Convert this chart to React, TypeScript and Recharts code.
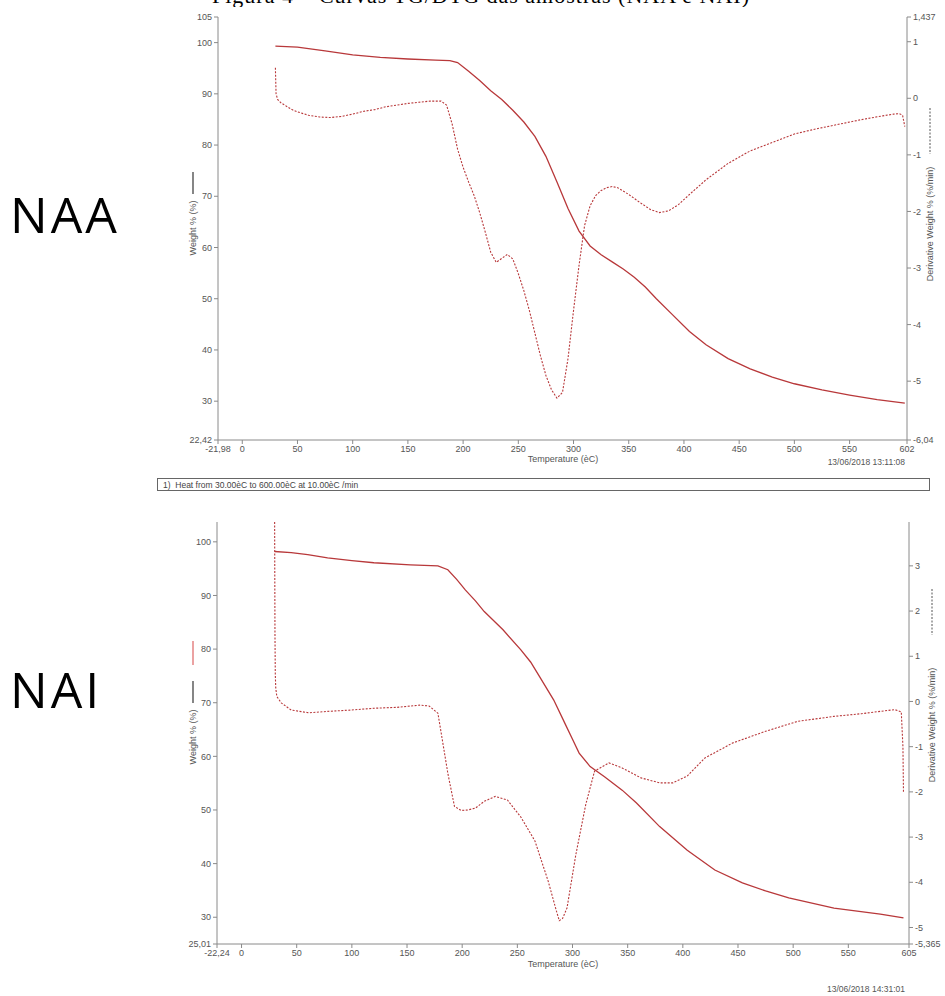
import React from 'react';
import { LineChart, Line, XAxis, YAxis, Label } from 'recharts';

// NAA – weight curve
const naaWeightTemp = [30, 40, 50, 75, 100, 125, 150, 175, 188, 195, 205, 215, 225, 235, 245, 255, 265, 275, 285, 295, 305, 315, 325, 335, 345, 355, 365, 375, 390, 405, 420, 440, 460, 480, 500, 525, 550, 575, 600];
const naaWeight = [99.3, 99.2, 99.1, 98.4, 97.6, 97.1, 96.8, 96.6, 96.5, 96.1, 94.4, 92.6, 90.6, 88.9, 86.8, 84.5, 81.7, 77.8, 72.8, 67.6, 63.2, 60.3, 58.6, 57.2, 55.8, 54.2, 52.3, 50.0, 46.8, 43.6, 41.0, 38.3, 36.3, 34.7, 33.4, 32.2, 31.2, 30.3, 29.6];

// NAA – derivative curve
const naaDerivTemp = [30, 30.6, 32, 35, 40, 45, 50, 60, 70, 80, 90, 100, 110, 120, 130, 140, 150, 160, 170, 180, 185, 190, 195, 200, 205, 210, 215, 220, 225, 230, 235, 240, 245, 250, 255, 260, 265, 270, 275, 280, 285, 290, 295, 300, 305, 310, 315, 320, 325, 330, 335, 340, 350, 360, 370, 378, 386, 395, 405, 420, 440, 460, 480, 500, 520, 540, 560, 580, 590, 595, 598, 600];
const naaDeriv = [0.54, 0.08, -0.02, -0.08, -0.14, -0.2, -0.24, -0.3, -0.33, -0.34, -0.32, -0.28, -0.23, -0.2, -0.15, -0.12, -0.09, -0.07, -0.05, -0.05, -0.12, -0.45, -0.9, -1.22, -1.48, -1.72, -2.02, -2.36, -2.72, -2.9, -2.83, -2.76, -2.84, -3.1, -3.4, -3.75, -4.15, -4.55, -4.9, -5.15, -5.3, -5.2, -4.6, -3.75, -2.95, -2.25, -1.9, -1.72, -1.63, -1.58, -1.56, -1.58, -1.7, -1.84, -1.97, -2.02, -1.99, -1.88, -1.7, -1.44, -1.15, -0.93, -0.78, -0.63, -0.54, -0.46, -0.38, -0.31, -0.28, -0.27, -0.3, -0.5];

// NAI – weight curve
const naiWeightTemp = [30, 45, 60, 78, 100, 120, 153, 178, 187, 195, 203, 212, 220, 237, 253, 262, 270, 283, 293, 300, 306, 316, 329, 345, 358, 379, 404, 429, 454, 475, 496, 537, 579, 600];
const naiWeight = [98.2, 98.0, 97.6, 97.0, 96.5, 96.1, 95.7, 95.5, 94.8, 93.0, 91.0, 89.0, 87.0, 83.6, 79.9, 77.6, 74.9, 70.5, 66.2, 63.2, 60.6, 58.1, 56.2, 53.7, 51.3, 46.9, 42.5, 38.8, 36.4, 34.9, 33.6, 31.7, 30.6, 29.9];

// NAI – derivative curve
const naiDerivTemp = [30, 30.3, 30.6, 31, 32, 36, 45, 61, 78, 99, 120, 141, 162, 170, 178, 182, 187, 193, 199, 205, 212, 220, 230, 241, 253, 266, 278, 285, 288, 291, 295, 303, 312, 320, 333, 345, 362, 379, 391, 404, 420, 445, 475, 504, 537, 562, 592, 598, 599.5, 600];
const naiDeriv = [3.97, 1.5, 0.6, 0.3, 0.11, -0.03, -0.19, -0.25, -0.22, -0.19, -0.15, -0.13, -0.08, -0.1, -0.26, -0.85, -1.59, -2.32, -2.41, -2.4, -2.36, -2.21, -2.1, -2.18, -2.55, -3.09, -3.98, -4.6, -4.85, -4.8, -4.57, -3.39, -2.28, -1.54, -1.36, -1.47, -1.69, -1.8, -1.8, -1.65, -1.25, -0.92, -0.66, -0.44, -0.33, -0.27, -0.18, -0.23, -1.0, -2.02];

// axis ticks
const naaXTicks = [-21.98, 0, 50, 100, 150, 200, 250, 300, 350, 400, 450, 500, 550, 602];
const naaWTicks = [22.42, 30, 40, 50, 60, 70, 80, 90, 100, 105];
const naaDTicks = [-6.04, -5, -4, -3, -2, -1, 0, 1, 1.437];
const naiXTicks = [-22.24, 0, 50, 100, 150, 200, 250, 300, 350, 400, 450, 500, 550, 605];
const naiWTicks = [25.01, 30, 40, 50, 60, 70, 80, 90, 100];
const naiDTicks = [-5.365, -5, -4, -3, -2, -1, 0, 1, 2, 3];

const toPoints = (ts: number[], vs: number[]) => ts.map((t, i) => ({ t, v: vs[i] }));

const FONT = '"Liberation Sans", Arial, sans-serif';
const AXIS = '#8a8a8a';
const TXT = '#555';
const CURVE = '#b8383a';
const fmt = (v: number) => String(v).replace('.', ',');
const tickStyle = { fill: TXT, fontSize: 9, fontFamily: FONT };

function LeftTitle({ cy, lineTop, redTop }: { cy: number; lineTop: number; redTop?: number }) {
  return (
    <g>
      {redTop !== undefined && <line x1={193} x2={193} y1={redTop} y2={redTop + 24} stroke="#e07070" strokeWidth={1.3} />}
      <line x1={193} x2={193} y1={lineTop} y2={lineTop + 22} stroke="#444" strokeWidth={1.3} />
      <text x={196} y={cy} transform={`rotate(-90 196 ${cy})`} textAnchor="middle" fontSize={9} fontFamily={FONT} fill={TXT}>
        Weight % (%)
      </text>
    </g>
  );
}

function RightTitle({ x, cy, dashTop }: { x: number; cy: number; dashTop: number }) {
  return (
    <g>
      <line x1={x - 3} x2={x - 3} y1={dashTop} y2={dashTop + 46} stroke="#555" strokeWidth={1} strokeDasharray="2 1.5" />
      <text x={x} y={cy} transform={`rotate(-90 ${x} ${cy})`} textAnchor="middle" fontSize={9} fontFamily={FONT} fill={TXT}>
        Derivative Weight % (%/min)
      </text>
    </g>
  );
}

function XTitle({ y }: { y: number }) {
  return (
    <text x={563} y={y} textAnchor="middle" fontSize={9} fontFamily={FONT} fill={TXT}>
      Temperature (èC)
    </text>
  );
}

function Panel(props: {
  height: number;
  margin: { top: number; right: number; bottom: number; left: number };
  rightWidth: number;
  xDomain: [number, number];
  xTicks: number[];
  wDomain: [number, number];
  wTicks: number[];
  dDomain: [number, number];
  dTicks: number[];
  weight: { t: number; v: number }[];
  deriv: { t: number; v: number }[];
  left: React.ReactNode;
  right: React.ReactNode;
  xTitleY: number;
}) {
  return (
    <LineChart width={945} height={props.height} margin={props.margin}>
      <XAxis
        type="number"
        dataKey="t"
        domain={props.xDomain}
        ticks={props.xTicks}
        interval={0}
        allowDataOverflow
        tickFormatter={fmt}
        tick={tickStyle}
        stroke={AXIS}
        tickSize={4}
        height={30}
      >
        <Label content={() => <XTitle y={props.xTitleY} />} />
      </XAxis>
      <YAxis
        yAxisId="w"
        type="number"
        domain={props.wDomain}
        ticks={props.wTicks}
        interval={0}
        allowDataOverflow
        tickFormatter={fmt}
        tick={tickStyle}
        stroke={AXIS}
        tickSize={4}
        width={40}
      >
        <Label content={() => props.left} />
      </YAxis>
      <YAxis
        yAxisId="d"
        orientation="right"
        type="number"
        domain={props.dDomain}
        ticks={props.dTicks}
        interval={0}
        allowDataOverflow
        tickFormatter={fmt}
        tick={tickStyle}
        stroke={AXIS}
        tickSize={4}
        width={props.rightWidth}
      >
        <Label content={() => props.right} />
      </YAxis>
      <Line
        yAxisId="w"
        data={props.weight}
        dataKey="v"
        type="linear"
        stroke={CURVE}
        strokeWidth={1.3}
        dot={false}
        isAnimationActive={false}
      />
      <Line
        yAxisId="d"
        data={props.deriv}
        dataKey="v"
        type="linear"
        stroke={CURVE}
        strokeWidth={1.1}
        strokeDasharray="2 1.5"
        dot={false}
        isAnimationActive={false}
      />
    </LineChart>
  );
}

export default function App() {
  return (
    <div style={{ position: 'absolute', left: 0, top: 0, width: 945, height: 996, background: '#fff', overflow: 'hidden', fontFamily: FONT }}>
      <div style={{ position: 'absolute', left: 0, top: 0, width: 945, height: 7, overflow: 'hidden' }}>
        <div style={{ position: 'absolute', left: 212, top: -17, fontFamily: '"Liberation Serif", serif', fontSize: 22, letterSpacing: 1, whiteSpace: 'nowrap', color: '#000' }}>
          Figura 4 – Curvas TG/DTG das amostras (NAA e NAI)
        </div>
      </div>

      <div style={{ position: 'absolute', left: 10, top: 180, fontFamily: '"Open Sans", sans-serif', fontSize: 50, letterSpacing: 3, color: '#000' }}>NAA</div>
      <div style={{ position: 'absolute', left: 10, top: 655, fontFamily: '"Open Sans", sans-serif', fontSize: 50, letterSpacing: 3, color: '#000' }}>NAI</div>

      <div style={{ position: 'absolute', left: 0, top: 0 }}>
        <Panel
          height={480}
          margin={{ top: 17, right: 0, bottom: 10, left: 178 }}
          rightWidth={38}
          xDomain={[-21.98, 602]}
          xTicks={naaXTicks}
          wDomain={[22.42, 105]}
          wTicks={naaWTicks}
          dDomain={[-6.04, 1.437]}
          dTicks={naaDTicks}
          weight={toPoints(naaWeightTemp, naaWeight)}
          deriv={toPoints(naaDerivTemp, naaDeriv)}
          left={<LeftTitle cy={228} lineTop={172} />}
          right={<RightTitle x={933} cy={224} dashTop={108} />}
          xTitleY={462}
        />
      </div>

      <div style={{ position: 'absolute', right: 40, top: 457, fontSize: 8.5, color: TXT }}>13/06/2018 13:11:08</div>
      <div style={{ position: 'absolute', left: 157, top: 478, width: 773, height: 13, border: '1px solid #666', fontSize: 8.5, color: '#444', lineHeight: '12px', paddingLeft: 5, boxSizing: 'border-box' }}>
        1)&nbsp; Heat from 30.00èC to 600.00èC at 10.00èC /min
      </div>

      <div style={{ position: 'absolute', left: 0, top: 505 }}>
        <Panel
          height={470}
          margin={{ top: 17, right: 0, bottom: 1, left: 177 }}
          rightWidth={36}
          xDomain={[-22.24, 605]}
          xTicks={naiXTicks}
          wDomain={[25.01, 103.7]}
          wTicks={naiWTicks}
          dDomain={[-5.365, 3.97]}
          dTicks={naiDTicks}
          weight={toPoints(naiWeightTemp, naiWeight)}
          deriv={toPoints(naiDerivTemp, naiDeriv)}
          left={<LeftTitle cy={232} lineTop={176} redTop={136} />}
          right={<RightTitle x={935} cy={220} dashTop={84} />}
          xTitleY={462}
        />
      </div>

      <div style={{ position: 'absolute', right: 40, top: 984, fontSize: 8.5, color: TXT }}>13/06/2018 14:31:01</div>
    </div>
  );
}
